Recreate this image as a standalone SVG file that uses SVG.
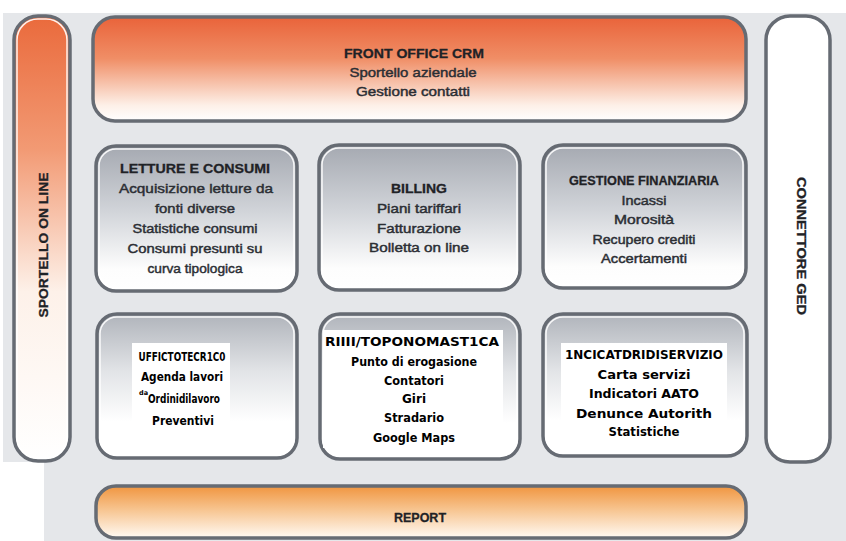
<svg xmlns="http://www.w3.org/2000/svg" width="846" height="541" viewBox="0 0 846 541">
<defs>
<linearGradient id="gSide" x1="0" y1="0" x2="0" y2="1">
<stop offset="0" stop-color="#ea6a3c"/><stop offset="0.3" stop-color="#f29a74"/><stop offset="0.62" stop-color="#fdf1e9"/><stop offset="1" stop-color="#ffffff"/>
</linearGradient>
<linearGradient id="gTop" x1="0" y1="0" x2="0" y2="1">
<stop offset="0" stop-color="#e9633a"/><stop offset="0.4" stop-color="#f08e66"/><stop offset="0.85" stop-color="#fdf0e8"/><stop offset="1" stop-color="#ffffff"/>
</linearGradient>
<linearGradient id="gRep" x1="0" y1="0" x2="0" y2="1">
<stop offset="0" stop-color="#f0953f"/><stop offset="0.45" stop-color="#f7c48f"/><stop offset="1" stop-color="#fffaf4"/>
</linearGradient>
<linearGradient id="gBox" x1="0" y1="0" x2="0" y2="1">
<stop offset="0" stop-color="#a5a9b1"/><stop offset="0.45" stop-color="#d1d4d9"/><stop offset="0.85" stop-color="#fdfdfd"/><stop offset="1" stop-color="#ffffff"/>
</linearGradient>
<linearGradient id="gBox2" x1="0" y1="0" x2="0" y2="1">
<stop offset="0" stop-color="#b0b4bb"/><stop offset="0.4" stop-color="#e2e4e7"/><stop offset="0.75" stop-color="#ffffff"/><stop offset="1" stop-color="#ffffff"/>
</linearGradient>
</defs>
<style>
.frame{stroke:#666b73;stroke-width:3.5}
.hl{fill:none;stroke:#ffffff;stroke-width:1.5;opacity:0.9}
.t{font-family:"Liberation Sans",Arial,sans-serif;font-size:13px;fill:#2b2e34;stroke:#2b2e34;stroke-width:0.45;text-anchor:middle;dominant-baseline:central}
.h{font-weight:bold;fill:#1f2226;stroke:#1f2226;stroke-width:0.3}
.b{font-family:"DejaVu Sans","Liberation Sans",sans-serif;font-weight:bold;font-size:13px;fill:#000;text-anchor:middle;dominant-baseline:central}
.sup{font-size:6.5px;text-anchor:start}
.wb{fill:#ffffff}
</style>
<path d="M3 13 H846 V541 H44 V462 H3 Z" fill="#e5e7ea"/>

<g id="sportello-online">
<rect class="frame" x="14" y="16" width="56" height="445" rx="24" fill="url(#gSide)"/>
<rect class="hl" x="17" y="19" width="50" height="439" rx="21"/>
<text class="t h" transform="translate(43 245) rotate(-90)" textLength="145" lengthAdjust="spacingAndGlyphs">SPORTELLO ON LINE</text>
</g>

<g id="front-office">
<rect class="frame" x="93" y="17" width="653" height="104" rx="22" fill="url(#gTop)"/>
<text class="t h" x="414" y="53" textLength="140" lengthAdjust="spacingAndGlyphs">FRONT OFFICE CRM</text>
<text class="t" x="413" y="72" textLength="127" lengthAdjust="spacingAndGlyphs">Sportello aziendale</text>
<text class="t" x="413" y="91" textLength="114" lengthAdjust="spacingAndGlyphs">Gestione contatti</text>
</g>

<g id="connettore-ged">
<rect class="frame" x="766" y="16" width="64" height="446" rx="24" fill="#ffffff"/>
<text class="t h" transform="translate(801 246) rotate(90)" textLength="138" lengthAdjust="spacingAndGlyphs">CONNETTORE GED</text>
</g>

<g id="letture-consumi">
<rect class="frame" x="96" y="146" width="201" height="145" rx="20" fill="url(#gBox)"/>
<rect class="hl" x="99" y="149" width="195" height="139" rx="17"/>
<text class="t h" x="195" y="168" textLength="150" lengthAdjust="spacingAndGlyphs">LETTURE E CONSUMI</text>
<text class="t" x="196" y="188" textLength="154" lengthAdjust="spacingAndGlyphs">Acquisizione letture da</text>
<text class="t" x="195" y="208" textLength="80" lengthAdjust="spacingAndGlyphs">fonti diverse</text>
<text class="t" x="195" y="228" textLength="125" lengthAdjust="spacingAndGlyphs">Statistiche consumi</text>
<text class="t" x="195" y="248" textLength="135" lengthAdjust="spacingAndGlyphs">Consumi presunti su</text>
<text class="t" x="195" y="268" textLength="95" lengthAdjust="spacingAndGlyphs">curva tipologica</text>
</g>

<g id="billing">
<rect class="frame" x="319" y="145" width="201" height="145" rx="20" fill="url(#gBox)"/>
<rect class="hl" x="322" y="148" width="195" height="139" rx="17"/>
<text class="t h" x="419" y="188" textLength="56" lengthAdjust="spacingAndGlyphs">BILLING</text>
<text class="t" x="419" y="208" textLength="84" lengthAdjust="spacingAndGlyphs">Piani tariffari</text>
<text class="t" x="419" y="228" textLength="84" lengthAdjust="spacingAndGlyphs">Fatturazione</text>
<text class="t" x="419" y="247" textLength="100" lengthAdjust="spacingAndGlyphs">Bolletta on line</text>
</g>

<g id="gestione-finanziaria">
<rect class="frame" x="543" y="145" width="203" height="143" rx="20" fill="url(#gBox)"/>
<rect class="hl" x="546" y="148" width="197" height="137" rx="17"/>
<text class="t h" x="644" y="180" textLength="150" lengthAdjust="spacingAndGlyphs">GESTIONE FINANZIARIA</text>
<text class="t" x="644" y="200" textLength="45" lengthAdjust="spacingAndGlyphs">Incassi</text>
<text class="t" x="644" y="219" textLength="60" lengthAdjust="spacingAndGlyphs">Morosità</text>
<text class="t" x="644" y="239" textLength="103" lengthAdjust="spacingAndGlyphs">Recupero crediti</text>
<text class="t" x="644" y="258" textLength="86" lengthAdjust="spacingAndGlyphs">Accertamenti</text>
</g>

<g id="ufficio-tecnico">
<rect class="frame" x="97" y="314" width="200" height="144" rx="20" fill="url(#gBox2)"/>
<rect class="hl" x="100" y="317" width="194" height="138" rx="17"/>
<rect class="wb" x="132" y="343" width="98" height="87"/>
<text class="b" x="182" y="356" textLength="87" lengthAdjust="spacingAndGlyphs">UFFICTOTECR1C0</text>
<text class="b" x="182" y="376" textLength="82" lengthAdjust="spacingAndGlyphs">Agenda lavori</text>
<text class="b sup" x="139" y="393">da</text>
<text class="b" x="184" y="398" textLength="72" lengthAdjust="spacingAndGlyphs">Ordinidilavoro</text>
<text class="b" x="183" y="420" textLength="62" lengthAdjust="spacingAndGlyphs">Preventivi</text>
</g>

<g id="rete-toponomastica">
<rect class="frame" x="320" y="314" width="200" height="145" rx="20" fill="url(#gBox2)"/>
<rect class="hl" x="323" y="317" width="194" height="139" rx="17"/>
<rect class="wb" x="323" y="330" width="180" height="118"/>
<text class="b" x="412" y="341" textLength="174" lengthAdjust="spacingAndGlyphs">RIIII/TOPONOMAST1CA</text>
<text class="b" x="414" y="361" textLength="126" lengthAdjust="spacingAndGlyphs">Punto di erogasione</text>
<text class="b" x="414" y="380" textLength="60" lengthAdjust="spacingAndGlyphs">Contatori</text>
<text class="b" x="414" y="398" textLength="24" lengthAdjust="spacingAndGlyphs">Giri</text>
<text class="b" x="414" y="417" textLength="60" lengthAdjust="spacingAndGlyphs">Stradario</text>
<text class="b" x="414" y="437" textLength="82" lengthAdjust="spacingAndGlyphs">Google Maps</text>
</g>

<g id="indicatori-servizio">
<rect class="frame" x="543" y="314" width="204" height="142" rx="20" fill="url(#gBox2)"/>
<rect class="hl" x="546" y="317" width="198" height="136" rx="17"/>
<rect class="wb" x="561" y="343" width="166" height="93"/>
<text class="b" x="644" y="354" textLength="158" lengthAdjust="spacingAndGlyphs">1NCICATDRIDISERVIZIO</text>
<text class="b" x="644" y="374" textLength="93" lengthAdjust="spacingAndGlyphs">Carta servizi</text>
<text class="b" x="644" y="393" textLength="110" lengthAdjust="spacingAndGlyphs">Indicatori AATO</text>
<text class="b" x="644" y="413" textLength="136" lengthAdjust="spacingAndGlyphs">Denunce Autorith</text>
<text class="b" x="644" y="431" textLength="71" lengthAdjust="spacingAndGlyphs">Statistiche</text>
</g>

<g id="report">
<rect class="frame" x="96" y="486" width="650" height="52" rx="20" fill="url(#gRep)"/>
<text class="t h" x="420" y="517" textLength="52" lengthAdjust="spacingAndGlyphs">REPORT</text>
</g>

<g id="connectors"/>
</svg>
